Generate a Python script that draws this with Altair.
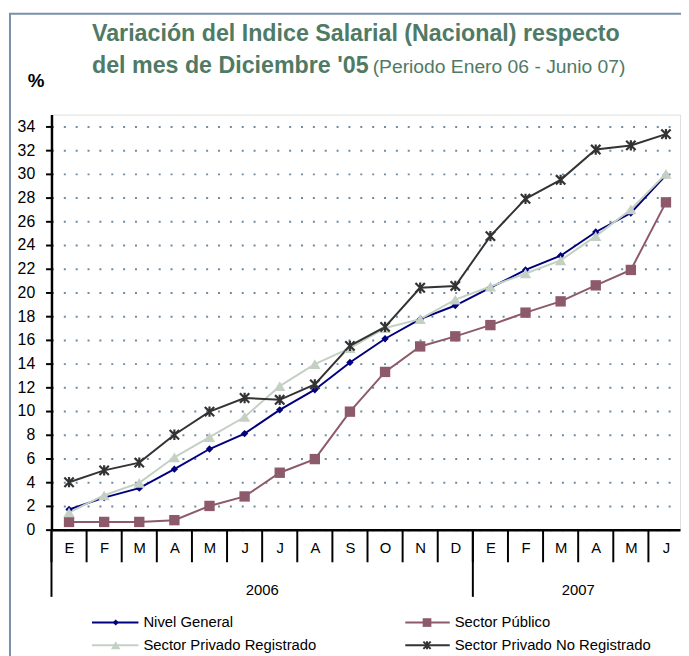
import altair as alt
import pandas as pd

months = ["E", "F", "M", "A", "M", "J", "J", "A", "S", "O", "N", "D",
          "E", "F", "M", "A", "M", "J"]
years = ["2006", "2007"]
year_pos = [5.5, 14.5]
year_sep = [-0.5, 11.5]

series = ["Nivel General", "Sector Público", "Sector Privado Registrado",
          "Sector Privado No Registrado"]
nivel_general = [1.7, 2.7, 3.5, 5.1, 6.8, 8.1, 10.1, 11.8, 14.1, 16.1, 17.75, 18.9,
                 20.4, 21.9, 23.1, 25.1, 26.7, 29.9]
sector_publico = [0.65, 0.65, 0.65, 0.8, 2.0, 2.8, 4.8, 5.95, 9.95, 13.3, 15.45, 16.3,
                  17.25, 18.3, 19.25, 20.6, 21.9, 27.6]
privado_registrado = [1.45, 2.9, 3.95, 6.1, 7.8, 9.5, 12.1, 13.95, 15.3, 17.0, 17.75, 19.4,
                      20.5, 21.6, 22.7, 24.75, 27.0, 30.0]
privado_no_registrado = [4.0, 5.0, 5.65, 8.0, 9.95, 11.1, 10.95, 12.25, 15.5, 17.1, 20.4, 20.55,
                         24.75, 27.9, 29.5, 32.05, 32.4, 33.35]

colors = ["#000080", "#8c5a6a", "#c4d0c4", "#333333"]

values = [nivel_general, sector_publico, privado_registrado, privado_no_registrado]
rows = []
for s, vals in zip(series, values):
    for i, v in enumerate(vals):
        rows.append({"idx": i, "value": v, "series": s})
df = pd.DataFrame(rows)

FONT = "Liberation Sans"
W, H = 636, 420

xscale = alt.Scale(domain=[-0.5, 17.4], nice=False, zero=False)
yscale = alt.Scale(domain=[0, 35], nice=False)
label_expr = "[" + ",".join("'%s'" % m for m in months) + "][datum.value]"

xaxis = alt.Axis(values=list(range(len(months))), labelExpr=label_expr,
                 title=None, grid=False, tickSize=0, labelPadding=11,
                 labelOverlap=False, labelFlush=False, labelBound=False,
                 labelFont=FONT, labelFontSize=15, labelColor="#000000",
                 domainColor="#000000", domainWidth=2.5)
yaxis = alt.Axis(values=list(range(0, 35, 2)), title=None,
                 labelOverlap=False, labelFlush=False, labelBound=False,
                 grid=True, gridDash=[2, 10], gridColor="#6f8aa6",
                 gridWidth=2, tickSize=6, tickColor="#000000", tickWidth=2,
                 labelFont=FONT, labelFontSize=16, labelColor="#000000",
                 labelPadding=11, domainColor="#000000", domainWidth=2.5)

base = alt.Chart(df)

lines = base.mark_line(strokeWidth=2).encode(
    x=alt.X("idx:Q", scale=xscale, axis=xaxis),
    y=alt.Y("value:Q", scale=yscale, axis=yaxis),
    color=alt.Color("series:N", scale=alt.Scale(domain=series, range=colors), legend=None),
    detail="series:N",
)

shapes = ["diamond", "square", "triangle-up",
          "M-1,-1L1,1M-1,1L1,-1M0,-1.1L0,1.1"]
sizes = [55, 110, 130, 90]
point_layers = []
for s, shp, sz, col in zip(series, shapes, sizes, colors):
    d = df[df["series"] == s]
    if s == "Sector Privado No Registrado":
        m = alt.Chart(d).mark_point(shape=shp, size=sz, filled=False, strokeWidth=2.2,
                                    color=col, opacity=1)
    else:
        m = alt.Chart(d).mark_point(shape=shp, size=sz, filled=True, color=col, opacity=1)
    point_layers.append(m.encode(x=alt.X("idx:Q", scale=xscale, axis=xaxis),
                                 y=alt.Y("value:Q", scale=yscale, axis=yaxis)))

# category separators below the axis
sep_df = pd.DataFrame({"idx": [i - 0.5 for i in range(len(months))]})
seps = alt.Chart(sep_df).mark_rule(color="#000000", strokeWidth=2).encode(
    x=alt.X("idx:Q", scale=xscale, axis=xaxis), y=alt.value(H), y2=alt.value(H + 33))
ysep_df = pd.DataFrame({"idx": year_sep})
yseps = alt.Chart(ysep_df).mark_rule(color="#000000", strokeWidth=2).encode(
    x=alt.X("idx:Q", scale=xscale, axis=xaxis), y=alt.value(H), y2=alt.value(H + 68))
ylab_df = pd.DataFrame({"idx": year_pos, "year": years})
ylabs = alt.Chart(ylab_df).mark_text(font=FONT, fontSize=15, color="#000000",
                                     baseline="middle").encode(
    x=alt.X("idx:Q", scale=xscale, axis=xaxis), y=alt.value(H + 61), text="year:N")

# title and "%"
t1 = alt.Chart(pd.DataFrame({"t": ["Variación  del  Indice Salarial  (Nacional) respecto"]})).mark_text(
    font=FONT, fontSize=23.5, fontWeight="bold", color="#4f7a65", align="left",
    baseline="alphabetic").encode(x=alt.value(41), y=alt.value(-74), text="t:N")
t2 = alt.Chart(pd.DataFrame({"t": ["del mes de Diciembre '05"]})).mark_text(
    font=FONT, fontSize=23.5, fontWeight="bold", color="#4f7a65", align="left",
    baseline="alphabetic").encode(x=alt.value(41), y=alt.value(-42), text="t:N")
t3 = alt.Chart(pd.DataFrame({"t": ["(Periodo Enero  06 - Junio  07)"]})).mark_text(
    font=FONT, fontSize=19.5, color="#4f7a65", align="left",
    baseline="alphabetic").encode(x=alt.value(325), y=alt.value(-42), text="t:N")
pct = alt.Chart(pd.DataFrame({"t": ["%"]})).mark_text(
    font=FONT, fontSize=19, fontWeight="bold", color="#000000", align="left",
    baseline="alphabetic").encode(x=alt.value(-24), y=alt.value(-28), text="t:N")

# outer frame (left and top edges visible)
frame_l = alt.Chart(pd.DataFrame({"a": [0]})).mark_rule(color="#7a90a8", strokeWidth=2).encode(
    x=alt.value(-42), y=alt.value(-102), y2=alt.value(H + 130))
frame_t = alt.Chart(pd.DataFrame({"a": [0]})).mark_rule(color="#7a90a8", strokeWidth=2).encode(
    x=alt.value(-43), x2=alt.value(W + 10), y=alt.value(-102))

# manual legend
leg_pos = [(41, 88, 65, 93, H + 94), (358, 403, 380, 408, H + 94),
           (41, 88, 65, 93, H + 117), (358, 403, 380, 408, H + 117)]
legend_layers = []
for s, shp, sz, col, (lx1, lx2, mx, tx, ly) in zip(series, shapes, sizes, colors, leg_pos):
    one = pd.DataFrame({"series": [s]})
    legend_layers.append(alt.Chart(one).mark_rule(color=col, strokeWidth=2).encode(
        x=alt.value(lx1), x2=alt.value(lx2), y=alt.value(ly)))
    if s == "Sector Privado No Registrado":
        pm = alt.Chart(one).mark_point(shape=shp, size=sz * 0.6, filled=False,
                                       strokeWidth=2, color=col, opacity=1)
    else:
        pm = alt.Chart(one).mark_point(shape=shp, size=sz * 0.7, filled=True,
                                       color=col, opacity=1)
    legend_layers.append(pm.encode(x=alt.value(mx), y=alt.value(ly)))
    legend_layers.append(alt.Chart(one).mark_text(
        font=FONT, fontSize=15, color="#000000", align="left", baseline="middle").encode(
        x=alt.value(tx), y=alt.value(ly), text="series:N"))

chart = alt.layer(
    lines, *point_layers, seps, yseps, ylabs, t1, t2, t3, pct, frame_l, frame_t,
    *legend_layers
).properties(
    width=W, height=H,
    autosize=alt.AutoSizeParams(type="none"),
    padding={"left": 44, "top": 104, "right": 1, "bottom": 124},
).configure_view(stroke=None).configure_axis(
    labelOverlap=False, labelFlush=False
).configure(background="#ffffff")

chart.save("out.html", embed_options={"renderer": "svg", "actions": False})
